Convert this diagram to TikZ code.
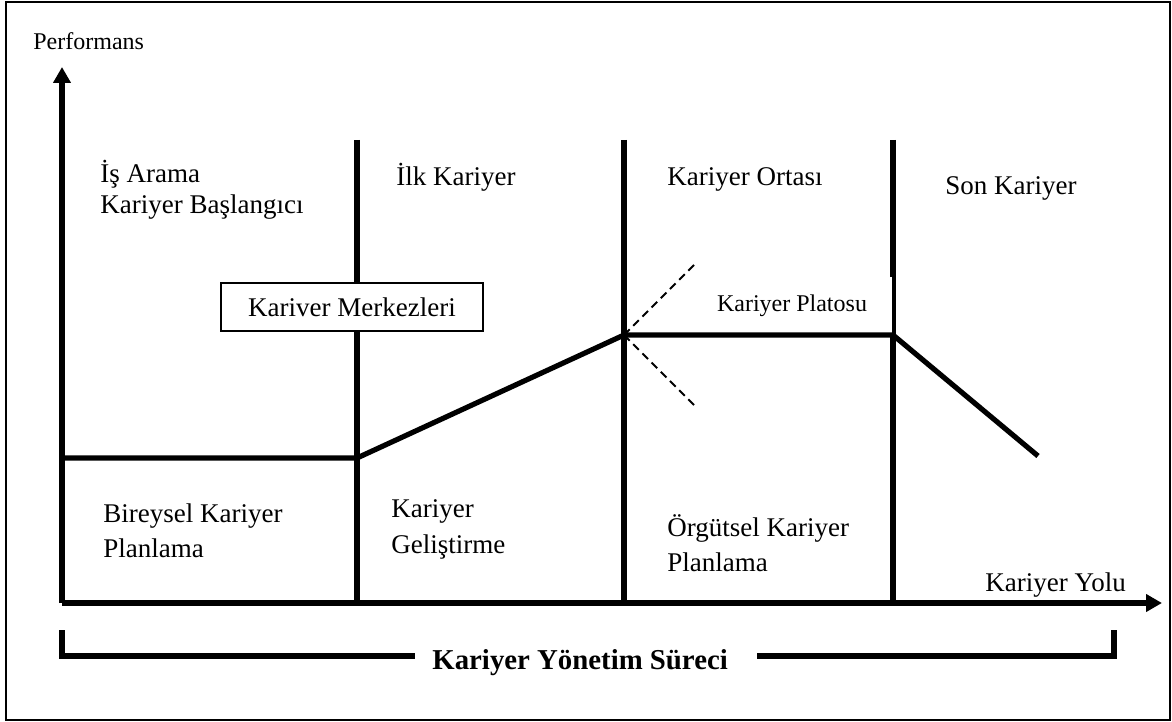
\documentclass[tikz,border=0pt]{standalone}
\usepackage{fontspec}
\setmainfont{Liberation Serif}
\usepackage{tikz}
\usetikzlibrary{arrows.meta,positioning}

\begin{document}
\begin{tikzpicture}[x=0.5pt,y=-0.5pt,
  thickline/.style={line width=2.6pt},
  lbl/.style={inner sep=0pt,anchor=base west,font=\fontsize{13.5}{16}\selectfont}]
\useasboundingbox (0,0) rectangle (1172,722);
\draw[line width=0.75pt] (6,2) rectangle (1170,720);
% axes
\coordinate (origin) at (62,603);
\coordinate (ytip) at (62,67);
\coordinate (xtip) at (1162,603);
\draw[thickline,-{Triangle[length=8pt,width=8.5pt]}] (origin) -- (ytip);
\draw[thickline,-{Triangle[length=8pt,width=8.5pt]}] (origin) -- (xtip);
\node[lbl,font=\fontsize{12}{14}\selectfont] (perf) at (33,50) {Performans};
\node[lbl] (yolu) at (985,591) {Kariyer Yolu};
% stage borders
\foreach \x/\n in {357/a,624/b,893/c}
{
\coordinate (top\n) at (\x,140);
\coordinate (bot\n) at (\x,603);
\draw[thickline] (top\n) -- (bot\n);
}
\node[draw,fill=white,line width=0.75pt,minimum width=131pt,minimum height=24pt,
  font=\fontsize{13.5}{16}\selectfont] (merkez) at (352,307) {Kariver Merkezleri};
\node[fill=white,inner sep=0pt,minimum width=100pt,minimum height=29pt,
  font=\fontsize{12}{14}\selectfont] (plato) at (792,306) {Kariyer Platosu};
% performance curve
\coordinate (p0) at (62,458);
\coordinate (p1) at (357,458);
\coordinate (p2) at (624,335);
\coordinate (p3) at (893,335);
\coordinate (p4) at (1038,456);
\coordinate (d1) at (697,262);
\coordinate (d2) at (697,408);
\draw[thickline] (p0) -- (p1) -- (p2) -- (p3) -- (p4);
\draw[line width=0.9pt,dash pattern=on 4pt off 2.5pt] (p2) -- (d1);
\draw[line width=0.9pt,dash pattern=on 4pt off 2.5pt] (p2) -- (d2);
% stage texts
\node[lbl] (ara1) at (100,183) {İş Arama};
\node[lbl] (ara2) at (100,213) {Kariyer Başlangıcı};
\node[lbl] (ilk) at (396,185) {İlk Kariyer};
\node[lbl] (orta) at (667,185) {Kariyer Ortası};
\node[lbl] (son) at (945,194) {Son Kariyer};
\node[lbl] (bir1) at (103,522) {Bireysel Kariyer};
\node[lbl] (bir2) at (103,557) {Planlama};
\node[lbl] (gel1) at (391,517) {Kariyer};
\node[lbl] (gel2) at (391,553) {Geliştirme};
\node[lbl] (org1) at (667,536) {Örgütsel Kariyer};
\node[lbl] (org2) at (667,571) {Planlama};
% process bracket
\node[lbl,font=\fontsize{14.4}{17}\selectfont\bfseries] (surec) at (432,669) {Kariyer Yönetim Süreci};
\coordinate (bl1) at (62,630);
\coordinate (bl2) at (62,656);
\coordinate (bl3) at (415,656);
\coordinate (br1) at (757,656);
\coordinate (br2) at (1114,656);
\coordinate (br3) at (1114,630);
\draw[thickline] (bl1) -- (bl2) -- (bl3);
\draw[thickline] (br1) -- (br2) -- (br3);
\end{tikzpicture}
\end{document}
